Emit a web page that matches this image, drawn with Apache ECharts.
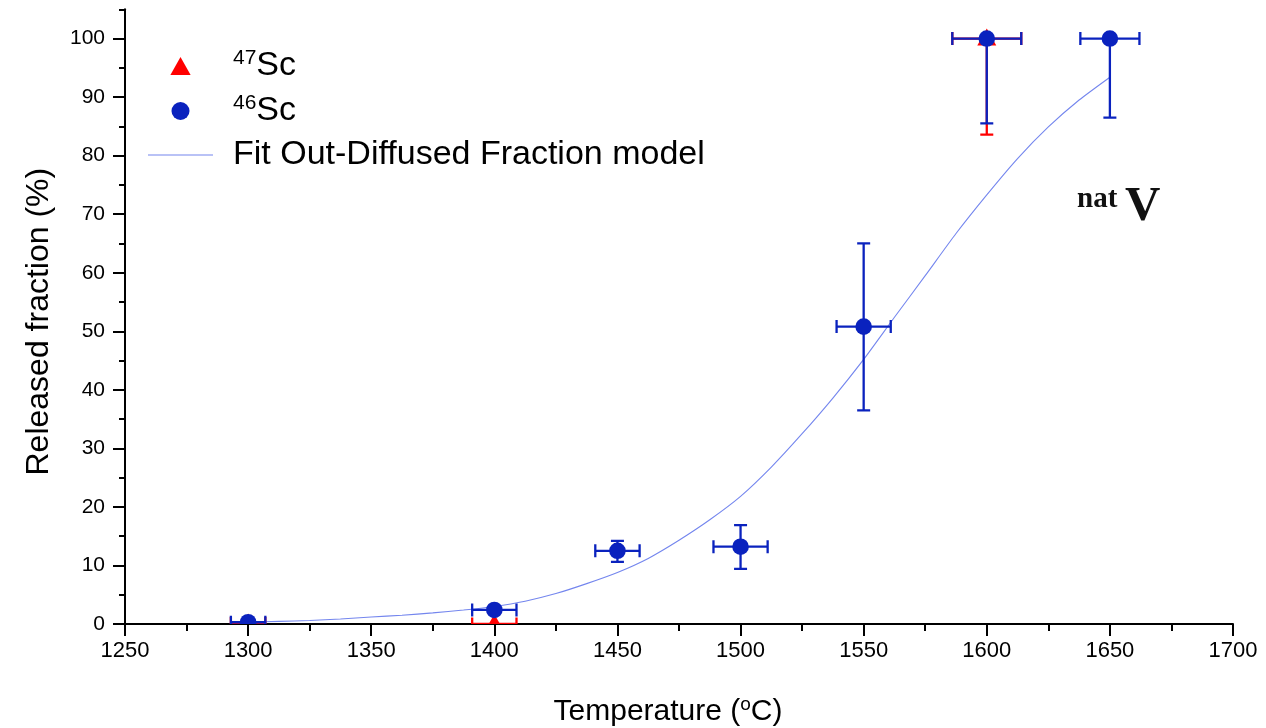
<!DOCTYPE html>
<html><head><meta charset="utf-8">
<script src="https://cdn.jsdelivr.net/npm/echarts@6/dist/echarts.min.js"></script>
<style>html,body{margin:0;padding:0;background:#fff}#c{width:1266px;height:728px}</style>
</head><body><div id="c"></div>
<script>
// ---- data ----
const temps46 = [1300, 1400, 1450, 1500, 1550, 1600, 1650];
const frac46 = [0.3, 2.4, 12.5, 13.2, 50.8, 100, 100];
const frac46ErrLow = [0, 0, 1.9, 3.8, 14.3, 14.5, 13.5];
const frac46ErrHigh = [0, 0, 1.7, 3.7, 14.2, 0, 0];
const temp46Err = [7, 9, 9, 11, 11, 14, 12];

const temps47 = [1300, 1400, 1600];
const frac47 = [0.1, 0, 100];
const frac47ErrLow = [0, 0, 16.4];
const frac47ErrHigh = [0, 0, 0];
const temp47Err = [7, 9, 14];

const fitTemps = [1300, 1312.5, 1325, 1337.5, 1350, 1362.5, 1375, 1387.5, 1400, 1412.5, 1425, 1437.5, 1450, 1462.5, 1475,
  1487.5, 1500, 1512.5, 1525, 1537.5, 1550, 1562.5, 1575, 1587.5, 1600, 1612.5, 1625, 1637.5, 1650];
const fitValues = [0.3, 0.45, 0.6, 0.85, 1.2, 1.5, 1.9, 2.4, 3.0, 3.9, 5.2, 6.9, 8.8, 11.2, 14.3,
  17.8, 21.8, 26.8, 32.5, 38.6, 45.2, 52.4, 59.5, 66.7, 73.3, 79.5, 84.9, 89.5, 93.4];

const xTickValues = [1250, 1300, 1350, 1400, 1450, 1500, 1550, 1600, 1650, 1700];
const yTickValues = [0, 10, 20, 30, 40, 50, 60, 70, 80, 90, 100];
const yMinorValues = [5, 15, 25, 35, 45, 55, 65, 75, 85, 95, 105];

const name47 = '47Sc', name46 = '46Sc', nameFit = 'Fit Out-Diffused Fraction model';

// ---- build ----
const BLUE = '#0a22be', RED = '#ff0000', FIT = '#7486ee';
const FONT = '"Liberation Sans", Arial, sans-serif';

function rows(t, v, xe, yl, yh) { return t.map((x, i) => [x, v[i], xe[i], yl[i], yh[i]]); }

function makeRender(marker, color) {
  return function (params, api) {
    const x = api.value(0), y = api.value(1), xe = api.value(2), yl = api.value(3), yh = api.value(4);
    const c = api.coord([x, y]);
    const l = api.coord([x - xe, y]), r = api.coord([x + xe, y]);
    const cap = 6.5;
    const ls = { stroke: color, lineWidth: 2.3 };
    const ch = [];
    ch.push({ type: 'line', shape: { x1: l[0], y1: l[1], x2: r[0], y2: r[1] }, style: ls });
    ch.push({ type: 'line', shape: { x1: l[0], y1: l[1] - cap, x2: l[0], y2: l[1] + cap }, style: ls });
    ch.push({ type: 'line', shape: { x1: r[0], y1: r[1] - cap, x2: r[0], y2: r[1] + cap }, style: ls });
    if (yl > 0) {
      const b = api.coord([x, y - yl]);
      ch.push({ type: 'line', shape: { x1: c[0], y1: c[1], x2: b[0], y2: b[1] }, style: ls });
      ch.push({ type: 'line', shape: { x1: b[0] - cap, y1: b[1], x2: b[0] + cap, y2: b[1] }, style: ls });
    }
    if (yh > 0) {
      const t = api.coord([x, y + yh]);
      ch.push({ type: 'line', shape: { x1: c[0], y1: c[1], x2: t[0], y2: t[1] }, style: ls });
      ch.push({ type: 'line', shape: { x1: t[0] - cap, y1: t[1], x2: t[0] + cap, y2: t[1] }, style: ls });
    }
    if (marker === 'circle') {
      ch.push({ type: 'circle', shape: { cx: c[0], cy: c[1], r: 8.3 }, style: { fill: color } });
    } else {
      ch.push({ type: 'polygon', shape: { points: [[c[0], c[1] - 10], [c[0] - 9.5, c[1] + 7], [c[0] + 9.5, c[1] + 7]] }, style: { fill: color } });
    }
    return { type: 'group', children: ch };
  };
}

const chart = echarts.init(document.getElementById('c'), null, { renderer: 'canvas' });
chart.setOption({
  animation: false,
  backgroundColor: '#fff',
  textStyle: { fontFamily: FONT },
  grid: { left: 125, right: 33, top: 9.3, bottom: 104, containLabel: false, outerBoundsMode: 'none' },
  legend: {
    orient: 'vertical', left: 143, top: 43,
    itemWidth: 65, itemHeight: 18, itemGap: 10,
    symbolKeepAspect: true,
    data: [
      { name: name47, icon: 'path://M9,0 L18,16 L0,16 Z', itemStyle: { color: RED } },
      { name: name46, icon: 'path://M0,8 A8,8 0 1 1 16,8 A8,8 0 1 1 0,8 Z', itemStyle: { color: BLUE } },
      { name: nameFit, icon: 'path://M0,0 L65,0 L65,1.2 L0,1.2 Z', itemStyle: { color: FIT } }
    ],
    formatter: function (n) {
      if (n === name47) return '{sup|47}{t|Sc}';
      if (n === name46) return '{sup|46}{t|Sc}';
      return '{t|' + n + '}';
    },
    textStyle: {
      padding: [0, 0, 0, 15],
      rich: {
        t: { fontSize: 34, fontFamily: FONT, color: '#000', lineHeight: 36 },
        sup: { fontSize: 21, fontFamily: FONT, color: '#000', lineHeight: 36, verticalAlign: 'top', padding: [0, 0, 14, 0] }
      }
    }
  },
  xAxis: {
    type: 'value', min: 1250, max: 1700, interval: 50,
    name: '{a|Temperature (}{s|o}{a|C)}',
    nameLocation: 'middle', nameGap: 71,
    nameTextStyle: {
      padding: [0, 22, 0, 0],
      rich: {
        a: { fontSize: 30, fontFamily: FONT, color: '#000', lineHeight: 34 },
        s: { fontSize: 19, fontFamily: FONT, color: '#000', lineHeight: 34, verticalAlign: 'top', padding: [0, 0, 12, 0] }
      }
    },
    axisLine: { onZero: false, lineStyle: { color: '#000', width: 2 } },
    axisTick: { show: true, inside: false, length: 12, lineStyle: { color: '#000', width: 2 } },
    minorTick: { show: true, splitNumber: 2, length: 7, lineStyle: { color: '#000', width: 2 } },
    axisLabel: { fontSize: 22, color: '#000', margin: 16, fontFamily: FONT, customValues: xTickValues, formatter: v => String(v) },
    splitLine: { show: false }
  },
  yAxis: [
    {
      type: 'value', min: 0, max: 105,
      name: 'Released fraction (%)', nameLocation: 'middle', nameGap: 70,
      nameTextStyle: { fontSize: 32, color: '#000', fontFamily: FONT, padding: [0, 10, 0, 0] },
      axisLine: { onZero: false, lineStyle: { color: '#000', width: 2 } },
      axisTick: { show: true, length: 12, customValues: yTickValues, lineStyle: { color: '#000', width: 2 } },
      axisLabel: { fontSize: 21, color: '#000', margin: 20, fontFamily: FONT, customValues: yTickValues, formatter: v => String(v) },
      splitLine: { show: false }
    },
    {
      type: 'value', min: 0, max: 105, position: 'left',
      axisLine: { show: false, onZero: false },
      axisTick: { show: true, length: 6, customValues: yMinorValues, lineStyle: { color: '#000', width: 2 } },
      axisLabel: { show: false },
      splitLine: { show: false }
    }
  ],
  series: [
    {
      name: nameFit, type: 'line', smooth: 0.2, symbol: 'none', showSymbol: false,
      lineStyle: { color: FIT, width: 1.1 }, itemStyle: { color: FIT },
      data: fitTemps.map((t, i) => [t, fitValues[i]]), z: 1
    },
    {
      name: name47, type: 'custom', clip: true, itemStyle: { color: RED },
      renderItem: makeRender('triangle', RED), encode: { x: 0, y: 1 },
      data: rows(temps47, frac47, temp47Err, frac47ErrLow, frac47ErrHigh), z: 2
    },
    {
      name: name46, type: 'custom', clip: true, itemStyle: { color: BLUE },
      renderItem: makeRender('circle', BLUE), encode: { x: 0, y: 1 },
      data: rows(temps46, frac46, temp46Err, frac46ErrLow, frac46ErrHigh), z: 3
    }
  ],
  graphic: [
    { type: 'text', left: 1077, top: 185, style: { text: 'nat', font: 'bold 29px "Liberation Serif", serif', fill: '#111' } },
    { type: 'text', left: 1125, top: 183, style: { text: 'V', font: 'bold 49px "Liberation Serif", serif', fill: '#111' } }
  ]
});
</script>
</body></html>
